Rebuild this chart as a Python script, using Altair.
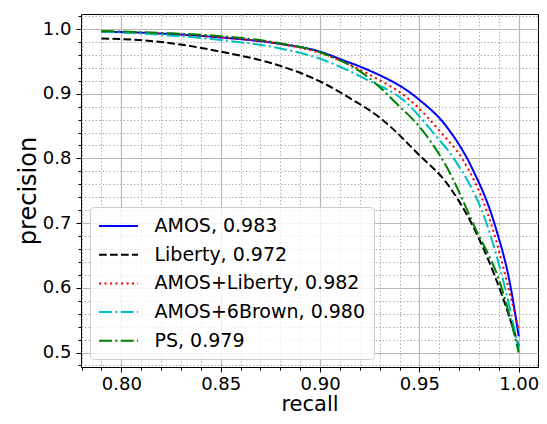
import altair as alt
import pandas as pd

series_names = ["AMOS, 0.983", "Liberty, 0.972", "AMOS+Liberty, 0.982",
                "AMOS+6Brown, 0.980", "PS, 0.979"]
series_colors = ["#0000ff", "#000000", "#ff0000", "#00bfbf", "#008000"]
series_dashes = [[1, 0], [7.7, 3.3], [2.1, 3.4], [13, 3.3, 2.1, 3.3], [13, 3.3, 2.1, 3.3]]

amos_recall = [0.79, 0.82, 0.85, 0.88, 0.90, 0.9123, 0.924, 0.949, 0.9637, 0.9765, 0.9882, 0.996, 1.0]
amos_prec = [0.996, 0.993, 0.987, 0.977, 0.965, 0.951, 0.937, 0.893, 0.849, 0.785, 0.695, 0.600, 0.525]

liberty_recall = [0.79, 0.82, 0.85, 0.88, 0.90, 0.914, 0.9305, 0.95, 0.9637, 0.977, 0.9914, 1.0]
liberty_prec = [0.9855, 0.980, 0.965, 0.943, 0.919, 0.895, 0.862, 0.805, 0.762, 0.695, 0.590, 0.510]

amos_lib_recall = [0.79, 0.82, 0.85, 0.88, 0.90, 0.924, 0.9457, 0.9615, 0.9715, 0.9865, 0.9948, 1.0]
amos_lib_prec = [0.996, 0.993, 0.987, 0.977, 0.963, 0.931, 0.889, 0.838, 0.800, 0.695, 0.600, 0.535]

amos_6b_recall = [0.79, 0.82, 0.85, 0.88, 0.90, 0.924, 0.9424, 0.9574, 0.9673, 0.9843, 0.9931, 1.0]
amos_6b_prec = [0.996, 0.991, 0.983, 0.970, 0.954, 0.921, 0.889, 0.838, 0.800, 0.695, 0.600, 0.505]

ps_recall = [0.79, 0.82, 0.85, 0.88, 0.90, 0.924, 0.9388, 0.95, 0.9637, 0.9777, 0.9914, 1.0]
ps_prec = [0.997, 0.994, 0.989, 0.978, 0.964, 0.926, 0.884, 0.849, 0.787, 0.695, 0.600, 0.500]

x_major = [0.80, 0.85, 0.90, 0.95, 1.00]
x_minor = [0.78, 0.79, 0.81, 0.82, 0.83, 0.84, 0.86, 0.87, 0.88, 0.89, 0.91, 0.92,
           0.93, 0.94, 0.96, 0.97, 0.98, 0.99]
y_major = [0.5, 0.6, 0.7, 0.8, 0.9, 1.0]
y_minor = [0.48, 0.52, 0.54, 0.56, 0.58, 0.62, 0.64, 0.66, 0.68, 0.72, 0.74, 0.76,
           0.78, 0.82, 0.84, 0.86, 0.88, 0.92, 0.94, 0.96, 0.98, 1.02]

all_recall = [amos_recall, liberty_recall, amos_lib_recall, amos_6b_recall, ps_recall]
all_prec = [amos_prec, liberty_prec, amos_lib_prec, amos_6b_prec, ps_prec]

rows = []
for name, xs, ys in zip(series_names, all_recall, all_prec):
    for i, (xv, yv) in enumerate(zip(xs, ys)):
        rows.append({"series": name, "recall": xv, "precision": yv, "order": i})
df = pd.DataFrame(rows)

xscale = alt.Scale(domain=[0.7797, 1.0097], nice=False, zero=False)
yscale = alt.Scale(domain=[0.4776, 1.0232], nice=False, zero=False)

legend = alt.Legend(
    title=None, orient="none", legendX=9, legendY=193,
    symbolType="M-1,0H2.9", symbolSize=400, symbolStrokeWidth=2,
    labelFont="DejaVu Sans", labelFontSize=19, labelColor="black",
    labelOffset=34.5, rowPadding=7.7, padding=8, labelLimit=500,
    fillColor="rgba(255,255,255,0.8)", strokeColor="#cccccc", cornerRadius=4,
)

common_axis = dict(labelFont="DejaVu Sans", labelColor="black", tickColor="black",
                   tickWidth=1, domain=False, labelFlush=False, labelOverlap=False)

x_axis = alt.Axis(values=x_major, format=".2f", title="recall", orient="bottom",
                  titleFont="DejaVu Sans", titleFontSize=21, titleFontWeight="normal",
                  titleColor="black", labelFontSize=18, tickSize=5, labelPadding=3,
                  titlePadding=0.5, grid=True, gridColor="#b8b8b8", gridWidth=1.2,
                  **common_axis)
y_axis = alt.Axis(values=y_major, format=".1f", title="precision", orient="left",
                  titleFont="DejaVu Sans", titleFontSize=24, titleFontWeight="normal",
                  titleColor="black", labelFontSize=18, tickSize=5, labelPadding=5,
                  titlePadding=2, grid=True, gridColor="#b8b8b8", gridWidth=1.2,
                  **common_axis)

x_axis_minor = alt.Axis(values=x_minor, labels=False, title=None, orient="bottom",
                        tickSize=3, grid=True, gridColor="#b0b0b0", gridWidth=1,
                        gridDash=[1.5, 2], **common_axis)
y_axis_minor = alt.Axis(values=y_minor, labels=False, title=None, orient="left",
                        tickSize=3, grid=True, gridColor="#b0b0b0", gridWidth=1,
                        gridDash=[1.5, 2], **common_axis)

minor = alt.Chart(df).mark_point(opacity=0).encode(
    x=alt.X("recall:Q", scale=xscale, axis=x_axis_minor),
    y=alt.Y("precision:Q", scale=yscale, axis=y_axis_minor),
)

lines = alt.Chart(df).mark_line(strokeWidth=2, interpolate="monotone", clip=True).encode(
    x=alt.X("recall:Q", scale=xscale, axis=x_axis),
    y=alt.Y("precision:Q", scale=yscale, axis=y_axis),
    color=alt.Color("series:N", sort=series_names,
                    scale=alt.Scale(domain=series_names, range=series_colors),
                    legend=legend),
    strokeDash=alt.StrokeDash("series:N", sort=series_names,
                              scale=alt.Scale(domain=series_names, range=series_dashes),
                              legend=legend),
    order=alt.Order("order:Q"),
)

chart = alt.layer(minor, lines).resolve_axis(
    x="independent", y="independent"
).properties(
    width=457, height=353,
    padding={"left": 73, "top": 6, "right": 1, "bottom": 48},
    autosize=alt.AutoSizeParams(type="none"),
).configure(
    font="DejaVu Sans"
).configure_view(
    stroke="black", strokeWidth=1
)

chart.save("out.html", embed_options={"renderer": "svg", "actions": False})
